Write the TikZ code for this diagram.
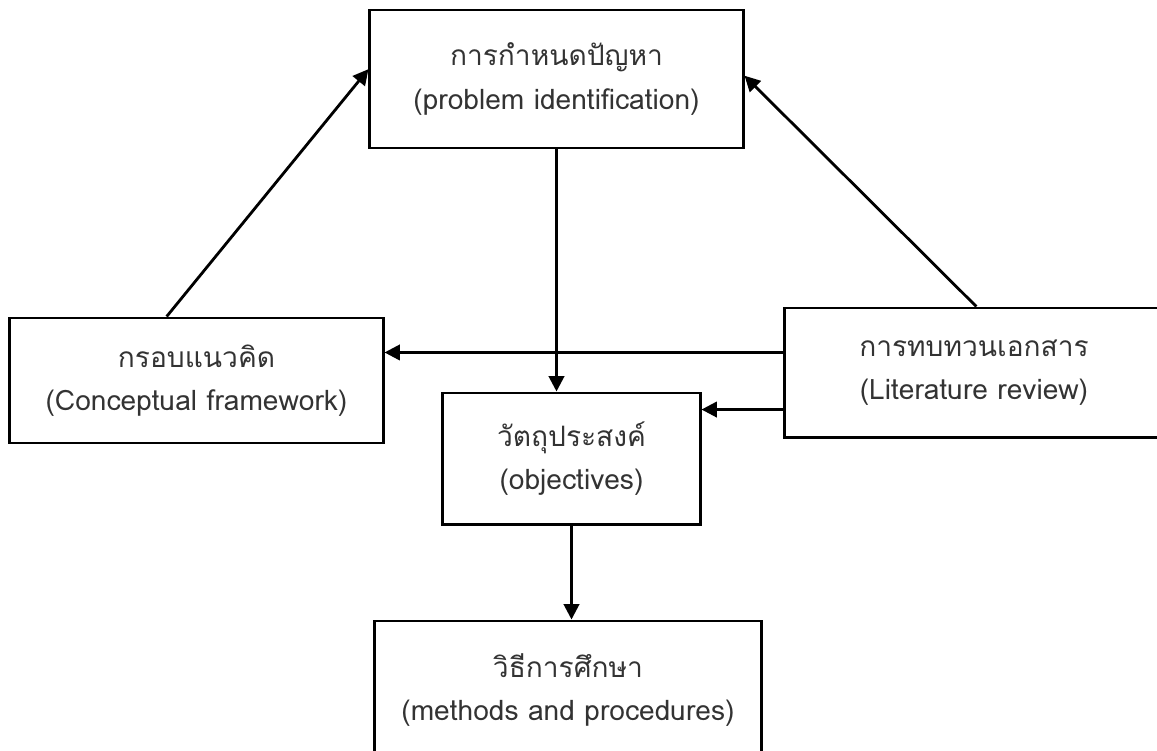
\documentclass[tikz,border=0pt]{standalone}
\usepackage{fontspec}
\newfontfamily\thaifont[Script=Thai]{Loma}
\usetikzlibrary{arrows.meta}

\begin{document}
\begin{tikzpicture}[x=0.025cm, y=-0.025cm,
  box/.style={draw, line width=2.1pt, inner sep=0pt, align=center, text=black!80,
    font=\thaifont\fontsize{20}{31}\selectfont},
  flow/.style={draw, line width=2pt, -{Triangle[length=11pt,width=11pt]}}]
\path[use as bounding box, clip] (0,0) rectangle (1157,750);
\node[box, minimum width=9.325cm, minimum height=3.45cm] (prob) at (556.5,79) {การกำหนดปัญหา\\(problem identification)};
\node[box, minimum width=9.325cm, minimum height=3.125cm] (concept) at (196.5,380.5) {กรอบแนวคิด\\(Conceptual framework)};
\node[box, minimum width=6.425cm, minimum height=3.275cm] (obj) at (571.5,458.5) {วัตถุประสงค์\\(objectives)};
\node[box, minimum width=9.45cm, minimum height=3.225cm] (lit) at (974,372.5) {การทบทวนเอกสาร\\(Literature review)};
\node[box, minimum width=9.65cm, minimum height=3.45cm] (meth) at (568,690) {วิธีการศึกษา\\(methods and procedures)};
\path[flow] (concept.115) -- (prob.177);
\path[flow] (lit.88) -- (prob.1);
\path[flow] (prob.south) -- (prob.south |- obj.north);
\path[flow] (lit.174) -- (lit.174 -| concept.east);
\path[flow] (lit.191) -- (lit.191 -| obj.east);
\path[flow] (obj.south) -- (obj.south |- meth.north);
\end{tikzpicture}
\end{document}
